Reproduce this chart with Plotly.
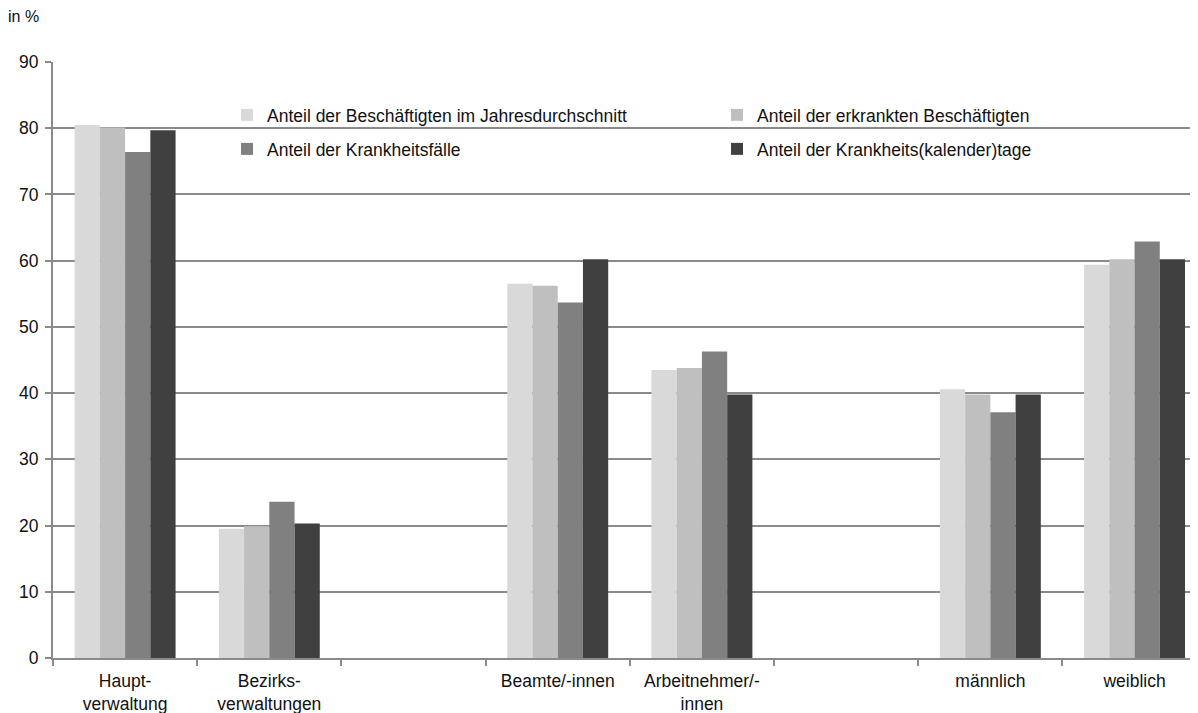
import plotly.graph_objects as go

categories = ["Haupt-<br>verwaltung", "Bezirks-<br>verwaltungen", " ",
              "Beamte/-innen", "Arbeitnehmer/-<br>innen", "  ",
              "männlich", "weiblich"]

series_names = [
    "Anteil der Beschäftigten im Jahresdurchschnitt",
    "Anteil der erkrankten Beschäftigten",
    "Anteil der Krankheitsfälle",
    "Anteil der Krankheits(kalender)tage",
]

beschaeftigte = [80.5, 19.5, None, 56.5, 43.5, None, 40.6, 59.4]
erkrankte = [80.1, 19.9, None, 56.2, 43.8, None, 39.8, 60.2]
faelle = [76.4, 23.6, None, 53.7, 46.3, None, 37.1, 62.9]
tage = [79.7, 20.3, None, 60.2, 39.8, None, 39.8, 60.2]

series_values = [beschaeftigte, erkrankte, faelle, tage]
colors = ["#d9d9d9", "#bfbfbf", "#808080", "#404040"]
legends = ["legend", "legend", "legend2", "legend2"]

FONT = "Liberation Sans, Arial, sans-serif"
GRID = "#8a8a8a"
FS = 17.5

fig = go.Figure()
for name, vals, col, lg in zip(series_names, series_values, colors, legends):
    fig.add_trace(go.Bar(x=categories, y=vals, name=name, marker_color=col,
                         marker_line_width=0, legend=lg))

# page body has an 8px margin, so the figure is drawn at (8, 8)
OFF = 8
W, H = 1198 - OFF, 713 - OFF
ml, mr, mt, mb = 53 - OFF, 0, 62 - OFF, 55
pw = W - ml - mr
ph = H - mt - mb

def py(ypx):
    return (H - mb - (ypx - OFF)) / ph

def px(xpx):
    return (xpx - OFF - ml) / pw

leg_common = dict(orientation="h", entrywidth=445, entrywidthmode="pixels",
                  font=dict(family=FONT, size=FS, color="#111"),
                  bgcolor="rgba(0,0,0,0)", xanchor="left", yanchor="middle",
                  itemwidth=30, tracegroupgap=0)

fig.update_layout(
    width=W, height=H,
    margin=dict(l=ml, r=mr, t=mt, b=mb, autoexpand=False),
    paper_bgcolor="white", plot_bgcolor="white",
    barmode="group", bargap=0.3, bargroupgap=0,
    font=dict(family=FONT, size=FS, color="#111"),
    showlegend=True,
    legend=dict(x=px(227), y=py(115), **leg_common),
    legend2=dict(x=px(227), y=py(149), **leg_common),
    xaxis=dict(type="category", range=[-0.5, 7.44], tickson="boundaries",
               ticks="outside", ticklen=6, tickwidth=1.5, tickcolor=GRID,
               ticklabelstandoff=6,
               showline=True, linecolor=GRID, linewidth=2,
               showgrid=False, automargin=False,
               tickfont=dict(family=FONT, size=FS, color="#111")),
    yaxis=dict(range=[0, 90], dtick=10, tick0=0, ticks="outside", ticklen=6,
               tickwidth=1.5, tickcolor=GRID, ticklabelstandoff=3,
               showline=True, linecolor=GRID, linewidth=2,
               showgrid=True, gridcolor=GRID, gridwidth=1.5,
               zeroline=False, automargin=False,
               tickfont=dict(family=FONT, size=FS, color="#111")),
    annotations=[dict(text="in %", xref="paper", yref="paper",
                      x=px(6), y=py(17), xanchor="left", yanchor="middle",
                      showarrow=False,
                      font=dict(family=FONT, size=16, color="#111"))],
)

fig.write_html("out.html")
